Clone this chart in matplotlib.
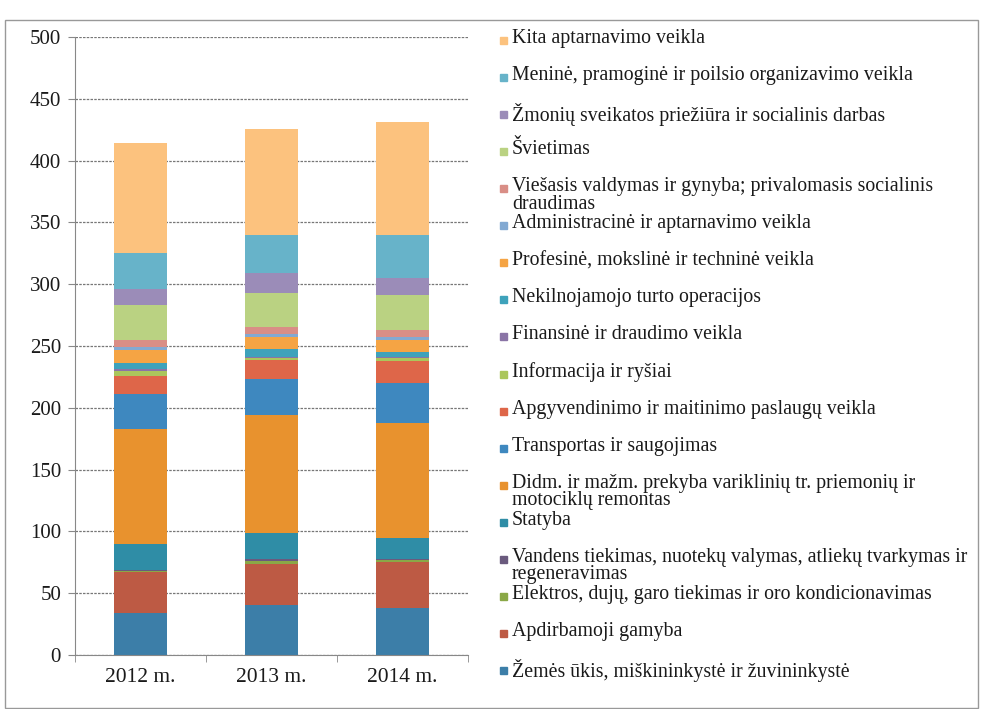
import matplotlib.pyplot as plt
from matplotlib.patches import Rectangle
import numpy as np

years = ['2012 m.', '2013 m.', '2014 m.']

# sectors, bottom of the stack first
sectors = [
    'Žemės ūkis, miškininkystė ir žuvininkystė',
    'Apdirbamoji gamyba',
    'Elektros, dujų, garo tiekimas ir oro kondicionavimas',
    'Vandens tiekimas, nuotekų valymas, atliekų tvarkymas ir\nregeneravimas',
    'Statyba',
    'Didm. ir mažm. prekyba variklinių tr. priemonių ir\nmotociklų remontas',
    'Transportas ir saugojimas',
    'Apgyvendinimo ir maitinimo paslaugų veikla',
    'Informacija ir ryšiai',
    'Finansinė ir draudimo veikla',
    'Nekilnojamojo turto operacijos',
    'Profesinė, mokslinė ir techninė veikla',
    'Administracinė ir aptarnavimo veikla',
    'Viešasis valdymas ir gynyba; privalomasis socialinis\ndraudimas',
    'Švietimas',
    'Žmonių sveikatos priežiūra ir socialinis darbas',
    'Meninė, pramoginė ir poilsio organizavimo veikla',
    'Kita aptarnavimo veikla',
]

values_2012 = [34, 33, 1, 1, 21, 93, 28, 15, 4, 1, 5, 11, 2, 6, 28, 13.5, 29, 88.5]
values_2013 = [40.5, 33.5, 2, 2, 21, 95, 29.5, 15, 2, 1, 6, 10, 2, 6, 27, 16.5, 30.5, 86]
values_2014 = [38, 37.5, 1, 1, 17, 93, 32.5, 18, 2, 1.5, 4, 9.5, 2, 6, 28.5, 13.5, 35, 91.5]

colors = ['#3c7ea8', '#bd5a44', '#8aa847', '#6a5a7e', '#2f8da6', '#e8922e',
          '#3e88bf', '#de6649', '#abc65c', '#8a74a6', '#3ea2bb', '#f5a444',
          '#82a9d2', '#d98e86', '#bad282', '#9b8cb8', '#67b3c9', '#fcc27e']

plt.rcParams['font.family'] = ['Liberation Serif', 'DejaVu Serif']

W, H = 982, 709
fig = plt.figure(figsize=(W / 100, H / 100), dpi=100)
ax = fig.add_axes([75 / W, 1 - 655 / H, 393 / W, 618 / H])

data = np.array([values_2012, values_2013, values_2014]).T
x = np.arange(len(years))
bottom = np.zeros(len(years))
for vals, col in zip(data, colors):
    ax.bar(x, vals, width=0.4, bottom=bottom, color=col, zorder=2)
    bottom += vals

ax.set_xlim(-0.5, 2.5)
ax.set_ylim(0, 500)
ax.set_yticks(np.arange(0, 501, 50))
ax.yaxis.grid(True, linestyle=(0, (2, 1)), color='#777777', linewidth=0.9, zorder=0)
ax.set_xticks(x)
ax.set_xticklabels(years)
ax.set_xticks([-0.5, 0.5, 1.5, 2.5], minor=True)
ax.tick_params(axis='x', which='major', length=0, labelsize=15.5, pad=9, labelcolor='#1a1a1a')
ax.tick_params(axis='x', which='minor', length=5, color='#888888')
ax.tick_params(axis='y', length=5, color='#888888', labelsize=15, pad=5, labelcolor='#1a1a1a')
for side in ['top', 'right']:
    ax.spines[side].set_visible(False)
for side in ['left', 'bottom']:
    ax.spines[side].set_color('#888888')

# legend drawn by hand, top entry is the last series
step = (670 - 40) / (len(sectors) - 1)
for i, (label, col) in enumerate(zip(sectors[::-1], colors[::-1])):
    yc = 40 + i * step
    fig.patches.append(Rectangle((500 / W, 1 - (yc + 4) / H), 7 / W, 7 / H,
                                 transform=fig.transFigure, color=col))
    fig.text(512 / W, 1 - (yc - 11) / H, label, fontsize=14.3, va='top', ha='left',
             linespacing=0.9, color='#1a1a1a')

# outer frame
fig.patches.append(Rectangle((5 / W, 0.002), 973 / W, 1 - 20 / H - 0.002,
                             transform=fig.transFigure, fill=False,
                             edgecolor='#999999', linewidth=1))

fig.savefig('out.png', dpi=100)
